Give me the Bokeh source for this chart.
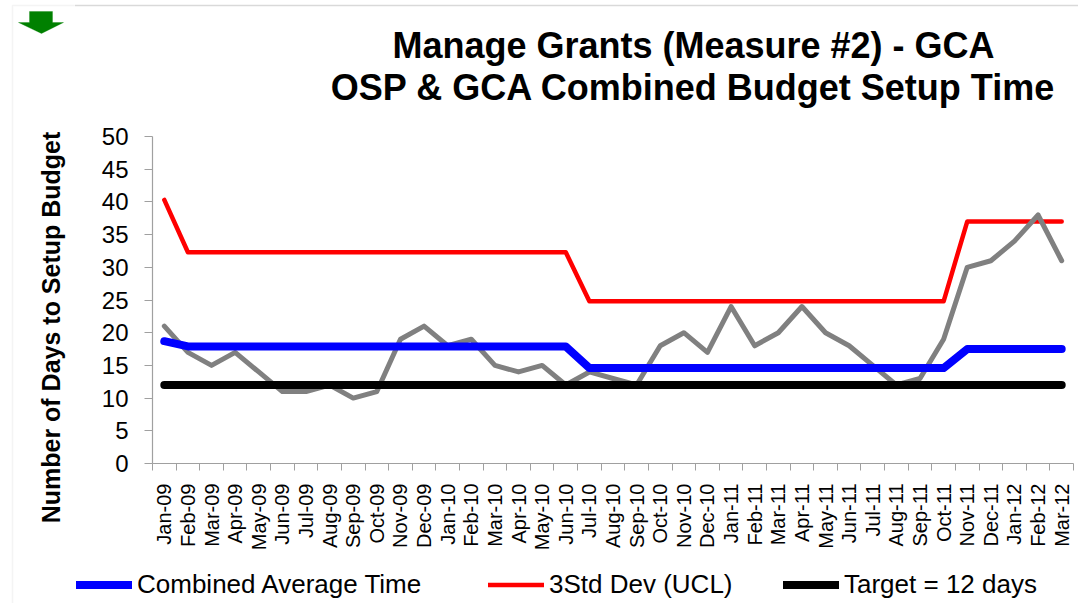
from bokeh.plotting import figure
from bokeh.models import (Range1d, FixedTicker, Label, Legend, LegendItem,
                          PolyAnnotation, Span, BoxAnnotation)
from bokeh.layouts import row, column
from bokeh.embed import file_html
from bokeh.resources import INLINE
import math

months = ["Jan-09", "Feb-09", "Mar-09", "Apr-09", "May-09", "Jun-09", "Jul-09", "Aug-09",
          "Sep-09", "Oct-09", "Nov-09", "Dec-09", "Jan-10", "Feb-10", "Mar-10", "Apr-10",
          "May-10", "Jun-10", "Jul-10", "Aug-10", "Sep-10", "Oct-10", "Nov-10", "Dec-10",
          "Jan-11", "Feb-11", "Mar-11", "Apr-11", "May-11", "Jun-11", "Jul-11", "Aug-11",
          "Sep-11", "Oct-11", "Nov-11", "Dec-11", "Jan-12", "Feb-12", "Mar-12"]

actual_days = [21, 17, 15, 17, 14, 11, 11, 12, 10, 11, 19, 21, 18, 19, 15, 14,
               15, 12, 14, 13, 12, 18, 20, 17, 24, 18, 20, 24, 20, 18, 15, 12,
               13, 19, 30, 31, 34, 38, 31]

combined_avg = [18.7, 17.9, 17.9, 17.9, 17.9, 17.9, 17.9, 17.9, 17.9, 17.9, 17.9, 17.9,
                17.9, 17.9, 17.9, 17.9, 17.9, 17.9, 14.6, 14.6, 14.6, 14.6, 14.6, 14.6,
                14.6, 14.6, 14.6, 14.6, 14.6, 14.6, 14.6, 14.6, 14.6, 14.6, 17.5, 17.5,
                17.5, 17.5, 17.5]

ucl_3std = [40.3, 32.3, 32.3, 32.3, 32.3, 32.3, 32.3, 32.3, 32.3, 32.3, 32.3, 32.3,
            32.3, 32.3, 32.3, 32.3, 32.3, 32.3, 24.8, 24.8, 24.8, 24.8, 24.8, 24.8,
            24.8, 24.8, 24.8, 24.8, 24.8, 24.8, 24.8, 24.8, 24.8, 24.8, 37.0, 37.0,
            37.0, 37.0, 37.0]

target = [12, 12, 12, 12, 12, 12, 12, 12, 12, 12, 12, 12, 12, 12, 12, 12, 12, 12, 12, 12,
          12, 12, 12, 12, 12, 12, 12, 12, 12, 12, 12, 12, 12, 12, 12, 12, 12, 12, 12]

y_ticks = [0, 5, 10, 15, 20, 25, 30, 35, 40, 45, 50]

title_lines = ["Manage Grants (Measure #2) - GCA", "OSP & GCA Combined Budget Setup Time"]
y_label = "Number of Days to Setup Budget"
legend_labels = ["Combined Average Time", "3Std Dev (UCL)", "Target = 12 days"]

FONT = "Liberation Sans"
AXIS_GRAY = "#a0a0a0"
BORDER_GRAY = "#d9d9d9"

BLUE, RED, GRAY, BLACK = "#0000ff", "#ff0000", "#808080", "#000000"


def blank(w, h, xr, yr):
    f = figure(width=w, height=h, output_backend="svg", toolbar_location=None,
               x_range=Range1d(*xr), y_range=Range1d(*yr),
               x_axis_type=None, y_axis_type=None, title=None,
               min_border=0, min_border_left=0, min_border_right=0,
               min_border_top=0, min_border_bottom=0, frame_align=False)
    f.outline_line_color = None
    f.xgrid.visible = False
    f.ygrid.visible = False
    f.background_fill_color = "white"
    f.border_fill_color = "white"
    return f


# ---- left strip (page x 0..74): border corner, arrow, y-axis title
strip = blank(74, 603, (0, 74), (603, 0))
strip.add_layout(BoxAnnotation(left=12, right=500, top=5, bottom=2000, fill_alpha=0,
                               line_color=BORDER_GRAY, line_width=1.5))
strip.add_layout(PolyAnnotation(xs=[29, 52, 52, 63, 41, 18, 29], ys=[11, 11, 22, 22, 33, 22, 22],
                                fill_color="#008000", fill_alpha=1, line_color="#008000",
                                line_width=1))
strip.add_layout(Label(x=50, y=327, text=y_label, angle=math.pi / 2, text_align="center",
                       text_baseline="middle", text_font=FONT, text_font_style="bold",
                       text_font_size="25px", text_color="black"))

# ---- header (page x 74..1078, y 0..112): titles
header = blank(1004, 112, (74, 1078), (112, 0))
header.add_layout(Span(location=5, dimension="width", line_color=BORDER_GRAY, line_width=1.5))
for txt, base in zip(title_lines, [45, 86.5]):
    header.add_layout(Label(x=693, y=base, text=txt, text_align="center",
                            text_baseline="alphabetic", text_font=FONT,
                            text_font_style="bold", text_font_size="36px",
                            text_color="black"))

# ---- main chart (page y 112..553)
xs = list(range(len(months)))
p = figure(width=1004, height=441, output_backend="svg", toolbar_location=None,
           x_range=Range1d(-0.5, len(months) - 0.5), y_range=Range1d(0, 50),
           min_border_left=78, min_border_right=5, min_border_top=24,
           min_border_bottom=90, title=None, frame_align=False)
p.outline_line_color = None
p.xgrid.visible = False
p.ygrid.visible = False
p.background_fill_color = "white"
p.border_fill_color = "white"

xa = p.xaxis[0]
xa.ticker = FixedTicker(ticks=xs, minor_ticks=[i - 0.5 for i in range(len(months) + 1)])
xa.major_label_overrides = {i: m for i, m in zip(xs, months)}
xa.major_label_orientation = math.pi / 2
xa.major_tick_line_color = None
xa.major_tick_out = 0
xa.major_tick_in = 0
xa.minor_tick_out = 7
xa.minor_tick_in = 0
xa.minor_tick_line_color = AXIS_GRAY
xa.axis_line_color = AXIS_GRAY
xa.axis_line_width = 1.2
xa.major_label_standoff = 13
xa.major_label_text_font = FONT
xa.major_label_text_font_size = "20px"
xa.major_label_text_color = "black"

ya = p.yaxis[0]
ya.ticker = FixedTicker(ticks=y_ticks)
ya.minor_tick_line_color = None
ya.major_tick_out = 8
ya.major_tick_in = 0
ya.major_tick_line_color = AXIS_GRAY
ya.axis_line_color = AXIS_GRAY
ya.axis_line_width = 1.2
ya.major_label_standoff = 16
ya.major_label_text_font = FONT
ya.major_label_text_font_size = "24px"
ya.major_label_text_color = "black"

p.line(xs, ucl_3std, line_color=RED, line_width=4.5, line_cap="round", line_join="round")
p.line(xs, actual_days, line_color=GRAY, line_width=5, line_cap="round", line_join="round")
p.line(xs, combined_avg, line_color=BLUE, line_width=8, line_cap="round", line_join="round")
p.line(xs, target, line_color=BLACK, line_width=8, line_cap="round", line_join="round")

# ---- footer (page y 553..603): legend (swatch renderers hidden; legend only)
footer = blank(1004, 50, (74, 1078), (603, 553))
swatches = [footer.line(xs, combined_avg, line_color=BLUE, line_width=8, line_cap="round", visible=False),
            footer.line(xs, ucl_3std, line_color=RED, line_width=4.5, line_cap="round", visible=False),
            footer.line(xs, target, line_color=BLACK, line_width=8, line_cap="round", visible=False)]
for r, lab, gx in zip(swatches, legend_labels, [76, 488, 783]):
    lg = Legend(items=[LegendItem(label=lab, renderers=[r])], location=(gx - 74, 3),
                orientation="horizontal", background_fill_alpha=0,
                border_line_color=None, padding=0, margin=0, glyph_width=56,
                glyph_height=25, label_standoff=5, label_height=25,
                label_text_font=FONT, label_text_font_size="26px",
                label_text_color="black", click_policy="none",
                inactive_fill_alpha=0)
    footer.add_layout(lg, "center")

layout = row(strip, column(header, p, footer, spacing=0), spacing=0)
open("out.html", "w").write(file_html(layout, INLINE))
